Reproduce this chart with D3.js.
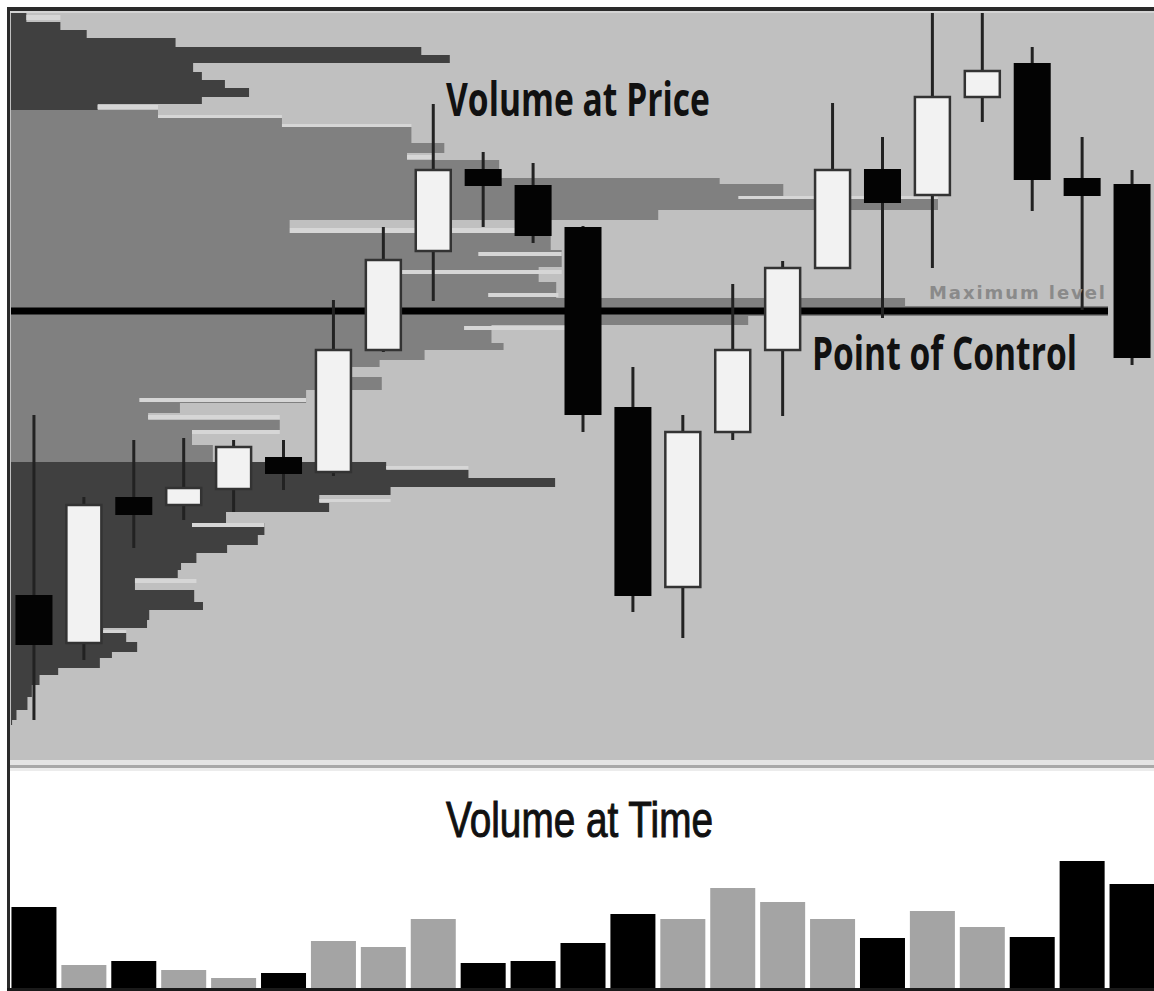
<!DOCTYPE html>
<html><head><meta charset="utf-8">
<script src="https://cdn.jsdelivr.net/npm/d3@7/dist/d3.min.js"></script>
<style>html,body{margin:0;padding:0;background:#fff;overflow:hidden}svg{display:block}</style>
</head><body>
<svg id="chart" width="1154" height="991"></svg>
<script>
// ---- Candles (price units) ----
const candleOpen  = [33.0, 23.4, 52.6, 51.0, 54.2, 60.6, 57.6, 82.0, 101.8, 118.2, 115.0, 106.6, 70.6, 34.6, 65.6, 82.0, 98.4, 118.2, 113.0, 132.6, 139.4, 116.4, 115.2];
const candleHigh  = [69.0, 52.6, 64.0, 64.4, 64.0, 64.0, 92.0, 106.6, 131.2, 121.6, 119.4, 106.8, 78.6, 69.0, 95.2, 99.8, 131.4, 124.6, 149.4, 149.4, 142.6, 124.6, 118.0];
const candleLow   = [8.0, 20.0, 42.4, 48.0, 49.6, 54.0, 56.8, 81.6, 91.8, 106.6, 103.4, 65.6, 29.6, 24.4, 64.0, 68.8, 98.4, 88.4, 98.4, 127.6, 109.8, 90.0, 79.0];
const candleClose = [23.0, 51.0, 49.0, 54.4, 62.6, 57.2, 82.0, 100.0, 118.0, 114.8, 104.8, 69.0, 32.8, 65.6, 82.0, 98.4, 118.0, 111.4, 132.6, 137.8, 116.0, 112.8, 80.4];

// ---- Volume at time ----
const volumeAtTime = [40.5, 11.5, 13.5, 9, 5, 7.5, 23.5, 20.5, 34.5, 12.5, 13.5, 22.5, 37, 34.5, 50, 43, 34.5, 25, 38.5, 30.5, 25.5, 63.5, 52];

// ---- Volume at price profile (row top price, row volume in % of POC) ----
const profileTop = [149.6,147.6,146.0,144.4,142.6,141.0,139.4,137.6,136.0,134.4,132.6,131.2,
  130.0,128.4,126.6,123.4,121.4,120.0,116.4,115.2,112.6,110.0,108.0,106.4,102.0,98.6,95.6,92.4,90.8,88.8,87.0,83.4,82.0,80.0,78.6,76.6,74.0,71.4,69.4,68.0,66.0,63.0,
  59.6,58.0,56.4,54.6,53.0,51.4,49.6,47.4,45.0,43.0,41.4,39.4,38.0,36.4,34.0,31.6,30.0,28.0,26.4,25.4,23.6,21.6,20.4,18.4,17.0,15.0,12.6,10.0,8.0];
const profileVolume = [1.4,4.5,6.9,15.0,37.4,40.0,16.6,17.4,19.5,21.7,17.4,7.9,
  13.4,24.7,36.5,39.5,36.1,44.5,64.6,70.4,84.5,59.0,25.4,49.2,50.2,48.1,49.7,81.5,100,67.2,43.8,44.9,37.7,33.6,31.0,33.8,26.9,15.4,12.5,24.5,16.5,18.4,
  34.2,41.7,49.6,34.6,28.1,29.0,19.6,23.1,22.5,19.7,16.9,15.5,15.2,11.3,16.7,17.5,12.6,12.4,8.4,10.5,11.5,9.2,8.1,4.3,2.6,1.9,1.5,0.5,0.1];
const profileBottom = 7.0;
const valueAreaHigh = 130.0;
const valueAreaLow = 59.6;
const pocPrice = 89.8;
const pocVolume = 100;

// light highlight stripes on the profile
const stripeTop    = [149.0,131.0,129.0,127.2,121.0,112.8,106.4,101.6,98.0,93.4,86.8,72.4,69.0,66.0,58.8,52.2,47.4,36.2,26.0];
const stripeBottom = [148.0,130.2,128.4,126.6,120.2,112.2,105.4,100.8,97.2,92.6,86.0,71.6,68.2,65.2,58.2,51.6,46.6,35.4,25.4];
const stripeFrom   = [1.4,7.9,13.4,24.7,36.1,66.3,25.4,42.6,35.4,43.5,41.3,11.7,12.5,16.5,34.2,28.1,16.5,11.3,8.4];
const stripeTo     = [4.5,13.4,24.7,36.5,38.4,84.5,49.2,50.2,50.2,49.9,50.5,26.9,24.5,24.5,41.7,34.6,23.1,16.9,10.5];

const labelPrice = "Volume at Price";
const labelPoc = "Point of Control";
const labelMax = "Maximum level";
const labelTime = "Volume at Time";

// ---- Drawing ----
const svg = d3.select('#chart');
const W = 1154, H = 991;
const idx = d3.range(candleOpen.length);

const x = d3.scaleBand().domain(idx).range([9, 1157]).padding(0);
const y = d3.scaleLinear().domain([0, 150]).range([760, 10]);
const xp = d3.scaleLinear().domain([0, 100]).range([11, 1108]);
const yv = d3.scaleLinear().domain([0, 100]).range([988, 788]);

svg.append('rect').attr('width', W).attr('height', H).attr('fill', '#fff');

// upper panel
const defs = svg.append('defs');
defs.append('clipPath').attr('id', 'upper').append('rect')
  .attr('x', 10).attr('y', 11).attr('width', W - 10).attr('height', 749);

svg.append('rect').attr('x', 10).attr('y', 11).attr('width', W - 10).attr('height', 749).attr('fill', '#c0c0c0');

const up = svg.append('g').attr('clip-path', 'url(#upper)');

// profile rows
const rows = profileTop.map((p, i) => ({
  top: p,
  bottom: i < profileTop.length - 1 ? profileTop[i + 1] : profileBottom,
  vol: profileVolume[i]
}));
up.append('g').selectAll('rect').data(rows).join('rect')
  .attr('x', xp(0))
  .attr('y', d => y(d.top))
  .attr('width', d => xp(d.vol) - xp(0))
  .attr('height', d => y(d.bottom) - y(d.top))
  .attr('fill', d => (d.top <= valueAreaHigh && d.top > valueAreaLow) ? '#808080' : '#404040');

// highlight stripes
up.append('g').selectAll('rect').data(stripeTop.map((t, i) => i)).join('rect')
  .attr('x', i => xp(stripeFrom[i]))
  .attr('y', i => y(stripeTop[i]))
  .attr('width', i => xp(stripeTo[i]) - xp(stripeFrom[i]))
  .attr('height', i => y(stripeBottom[i]) - y(stripeTop[i]))
  .attr('fill', '#d6d6d6');

// POC line
up.append('line')
  .attr('x1', xp(0)).attr('x2', xp(pocVolume))
  .attr('y1', y(pocPrice)).attr('y2', y(pocPrice))
  .attr('stroke', '#000').attr('stroke-width', 7);

// candles
const cw = 37;
const cg = up.append('g');
cg.selectAll('line').data(idx).join('line')
  .attr('x1', i => x(i) + x.bandwidth() / 2)
  .attr('x2', i => x(i) + x.bandwidth() / 2)
  .attr('y1', i => y(candleHigh[i]))
  .attr('y2', i => y(candleLow[i]))
  .attr('stroke', '#222').attr('stroke-width', 3);
cg.selectAll('rect').data(idx).join('rect')
  .attr('x', i => x(i) + (x.bandwidth() - cw) / 2 + (candleClose[i] >= candleOpen[i] ? 1 : 0))
  .attr('y', i => y(Math.max(candleOpen[i], candleClose[i])))
  .attr('width', i => candleClose[i] >= candleOpen[i] ? cw - 2 : cw)
  .attr('height', i => y(Math.min(candleOpen[i], candleClose[i])) - y(Math.max(candleOpen[i], candleClose[i])))
  .attr('fill', i => candleClose[i] >= candleOpen[i] ? '#f2f2f2' : '#030303')
  .attr('stroke', i => candleClose[i] >= candleOpen[i] ? '#333' : 'none')
  .attr('stroke-width', 2.5);

// condensed label helper: natural text scaled horizontally to a target width
function fitLabel(txt, x0, y0, width, font, weight, size, fill, strokeW) {
  const t = svg.append('text')
    .attr('x', 0).attr('y', 0)
    .attr('font-family', font).attr('font-weight', weight).attr('font-size', size)
    .attr('fill', fill)
    .text(txt);
  if (strokeW) t.attr('stroke', fill).attr('stroke-width', strokeW);
  const w = t.node().getComputedTextLength();
  t.attr('transform', `translate(${x0},${y0}) scale(${width / w},1)`);
  return t;
}

// Maximum level label
svg.append('text')
  .attr('x', 929).attr('y', y(pocPrice) - 12)
  .attr('font-family', 'DejaVu Sans, Verdana, sans-serif')
  .attr('font-weight', 'bold')
  .attr('font-size', 18)
  .attr('fill', '#8a8a8a')
  .attr('textLength', 176).attr('lengthAdjust', 'spacing')
  .text(labelMax);

// big labels
const bigFont = 'Open Sans, Lato, sans-serif';
fitLabel(labelPrice, 446, 116, 264, bigFont, 700, 47, '#111', 0);
fitLabel(labelPoc, 812, 370, 265, bigFont, 700, 47, '#111', 0);

// separator between panels
svg.append('rect').attr('x', 10).attr('y', 760).attr('width', W - 10).attr('height', 5).attr('fill', '#e4e4e4');
svg.append('rect').attr('x', 10).attr('y', 765).attr('width', W - 10).attr('height', 3).attr('fill', '#a8a8a8');
svg.append('rect').attr('x', 10).attr('y', 768).attr('width', W - 10).attr('height', 3).attr('fill', '#ececec');

// volume at time bars
const bw = 45;
svg.append('g').selectAll('rect').data(idx).join('rect')
  .attr('x', i => x(i) + (x.bandwidth() - bw) / 2)
  .attr('y', i => yv(volumeAtTime[i]))
  .attr('width', bw)
  .attr('height', i => yv(0) - yv(volumeAtTime[i]))
  .attr('fill', i => candleClose[i] >= candleOpen[i] ? '#a4a4a4' : '#000');

fitLabel(labelTime, 446, 837, 267, 'Liberation Sans, Arial, sans-serif', 400, 50, '#111', 1);

// frame
svg.append('rect').attr('x', 7).attr('y', 7).attr('width', W - 7).attr('height', 4).attr('fill', '#2a2a2a');
svg.append('rect').attr('x', 10).attr('y', 11).attr('width', W - 10).attr('height', 2).attr('fill', '#d4d4d4');
svg.append('rect').attr('x', 7).attr('y', 7).attr('width', 3).attr('height', H - 7).attr('fill', '#2a2a2a');
svg.append('rect').attr('x', 7).attr('y', 988).attr('width', W - 7).attr('height', 3).attr('fill', '#1a1a1a');
</script>
</body></html>
